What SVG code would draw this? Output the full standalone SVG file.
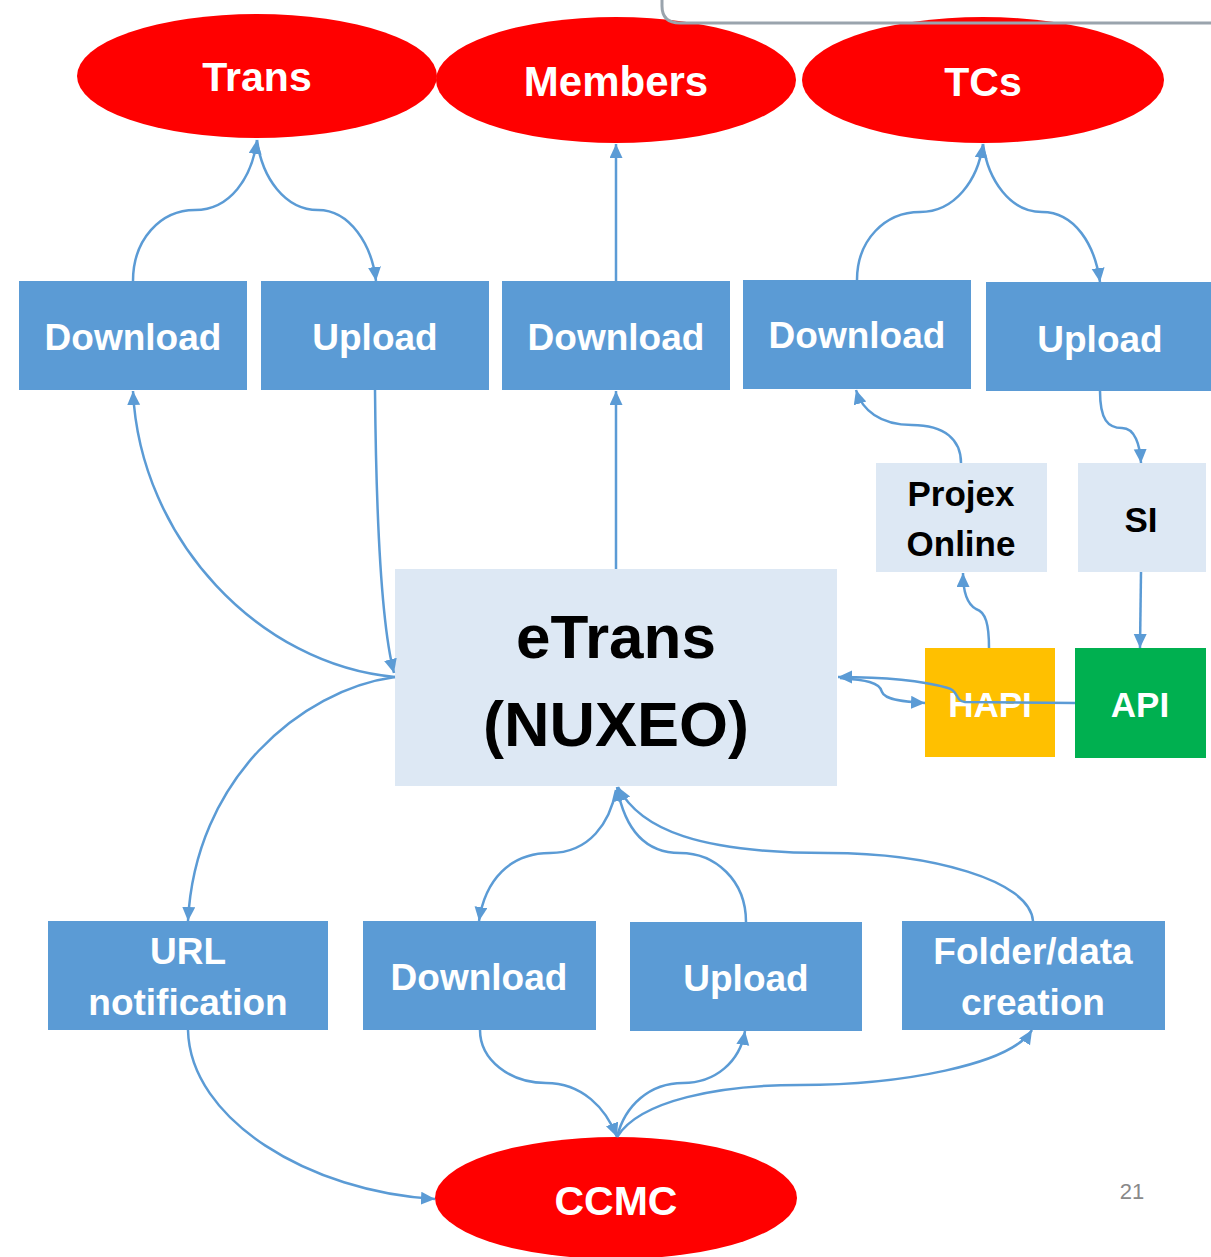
<svg xmlns="http://www.w3.org/2000/svg" width="1211" height="1257" viewBox="0 0 1211 1257">
<defs>
<style>
.ell{fill:#ff0000}
.box{fill:#5b9bd5}
.lt{fill:#dde8f4}
.wt{font-family:"Liberation Sans",Arial,sans-serif;font-weight:bold;fill:#ffffff;text-anchor:middle}
.bt{font-family:"Liberation Sans",Arial,sans-serif;font-weight:bold;fill:#000000;text-anchor:middle}
.c{fill:none;stroke:#5b9bd5;stroke-width:2.5}
.a{marker-end:url(#arr)}
</style>
<marker id="arr" markerUnits="userSpaceOnUse" markerWidth="15" markerHeight="14" refX="14" refY="6.5" orient="auto">
<path d="M0,0 L14,6.5 L0,13 z" fill="#5b9bd5"/>
</marker>
</defs>
<rect width="1211" height="1257" fill="#ffffff"/>

<g id="trans"><ellipse class="ell" cx="257" cy="76" rx="180" ry="62"/><text class="wt" x="257" y="91" font-size="41">Trans</text></g>
<g id="members"><ellipse class="ell" cx="616" cy="80" rx="180" ry="63"/><text class="wt" x="616" y="96" font-size="42">Members</text></g>
<g id="tcs"><ellipse class="ell" cx="983" cy="80" rx="181" ry="63"/><text class="wt" x="983" y="96" font-size="41">TCs</text></g>
<g id="ccmc"><ellipse class="ell" cx="616" cy="1198" rx="181" ry="61"/><text class="wt" x="616" y="1215" font-size="41">CCMC</text></g>

<path d="M 662 0 L 662 6 Q 662 23 680 23 L 1211 23" fill="none" stroke="#9aa4ad" stroke-width="3"/>

<g id="download1"><rect class="box" x="19" y="281" width="228" height="109"/><text class="wt" x="133" y="350" font-size="37">Download</text></g>
<g id="upload1"><rect class="box" x="261" y="281" width="228" height="109"/><text class="wt" x="375" y="350" font-size="37">Upload</text></g>
<g id="download2"><rect class="box" x="502" y="281" width="228" height="109"/><text class="wt" x="616" y="350" font-size="37">Download</text></g>
<g id="download3"><rect class="box" x="743" y="280" width="228" height="109"/><text class="wt" x="857" y="348" font-size="37">Download</text></g>
<g id="upload2"><rect class="box" x="986" y="282" width="225" height="109"/><text class="wt" x="1100" y="352" font-size="37">Upload</text></g>

<g id="etrans"><rect class="lt" x="395" y="569" width="442" height="217"/><text class="bt" x="616" y="658" font-size="62">eTrans</text><text class="bt" x="616" y="746" font-size="63">(NUXEO)</text></g>
<g id="projex"><rect class="lt" x="876" y="463" width="171" height="109"/><text class="bt" x="961" y="506" font-size="35">Projex</text><text class="bt" x="961" y="556" font-size="35">Online</text></g>
<g id="si"><rect class="lt" x="1078" y="463" width="128" height="109"/><text class="bt" x="1141" y="532" font-size="35">SI</text></g>
<g id="hapi"><rect x="925" y="648" width="130" height="109" fill="#ffc000"/><text class="wt" x="990" y="717" font-size="35">HAPI</text></g>
<g id="api"><rect x="1075" y="648" width="131" height="110" fill="#00b050"/><text class="wt" x="1140" y="717" font-size="35">API</text></g>

<g id="url"><rect class="box" x="48" y="921" width="280" height="109"/><text class="wt" x="188" y="964" font-size="37">URL</text><text class="wt" x="188" y="1015" font-size="37">notification</text></g>
<g id="download4"><rect class="box" x="363" y="921" width="233" height="109"/><text class="wt" x="479" y="990" font-size="37">Download</text></g>
<g id="upload3"><rect class="box" x="630" y="922" width="232" height="109"/><text class="wt" x="746" y="991" font-size="37">Upload</text></g>
<g id="folder"><rect class="box" x="902" y="921" width="263" height="109"/><text class="wt" x="1033" y="964" font-size="37">Folder/data</text><text class="wt" x="1033" y="1015" font-size="37">creation</text></g>

<text x="1132" y="1199" font-family="Liberation Sans,Arial,sans-serif" font-size="22" fill="#898989" text-anchor="middle">21</text>

<g id="connectors">
<path class="c a" d="M 133 281 C 133 240 160 210 195 210 C 230 210 252 178 257 140"/>
<path class="c a" d="M 257 140 C 262 178 285 210 318 210 C 350 210 372 245 376 281"/>
<path class="c a" d="M 616 281 L 616 144"/>
<path class="c a" d="M 857 280 C 857 240 885 212 920 212 C 955 212 978 180 983 144"/>
<path class="c a" d="M 983 144 C 988 180 1010 212 1042 212 C 1075 212 1095 245 1100 282"/>
<path class="c a" d="M 395 677 C 260 665 140 540 133 391"/>
<path class="c a" d="M 375 390 C 376 500 380 620 394 673"/>
<path class="c a" d="M 616 569 L 616 391"/>
<path class="c a" d="M 961 463 C 961 440 945 425 912 425 C 880 425 862 410 856 390"/>
<path class="c a" d="M 1100 391 C 1100 420 1108 428 1122 428 C 1135 428 1140 445 1141 463"/>
<path class="c a" d="M 989 648 C 989 625 986 612 976 609 C 967 604 963 590 963 573"/>
<path class="c a" d="M 1141 572 L 1140 648"/>
<path class="c a" d="M 1075 703 L 965 702 C 955 701 958 690 948 688 C 920 680 880 677 838 677"/>
<path class="c a" d="M 840 678 C 865 680 880 682 882 692 C 885 700 905 702 925 703"/>
<path class="c a" d="M 395 677 C 300 690 195 780 188 921"/>
<path class="c a" d="M 616 790 C 610 822 590 853 550 853 C 510 853 485 880 479 921"/>
<path class="c a" d="M 746 922 C 746 880 715 853 680 853 C 645 853 625 830 617 787"/>
<path class="c a" d="M 1033 921 C 1030 880 930 853 828 853 C 700 853 640 830 618 787"/>
<path class="c a" d="M 188 1030 C 190 1120 310 1192 435 1199"/>
<path class="c a" d="M 480 1030 C 480 1060 510 1083 546 1083 C 582 1083 606 1108 617 1137"/>
<path class="c a" d="M 617 1137 C 625 1105 650 1083 683 1083 C 715 1083 740 1062 745 1031"/>
<path class="c a" d="M 617 1137 C 640 1100 720 1085 800 1085 C 900 1085 1010 1065 1032 1030"/>
</g>
</svg>
